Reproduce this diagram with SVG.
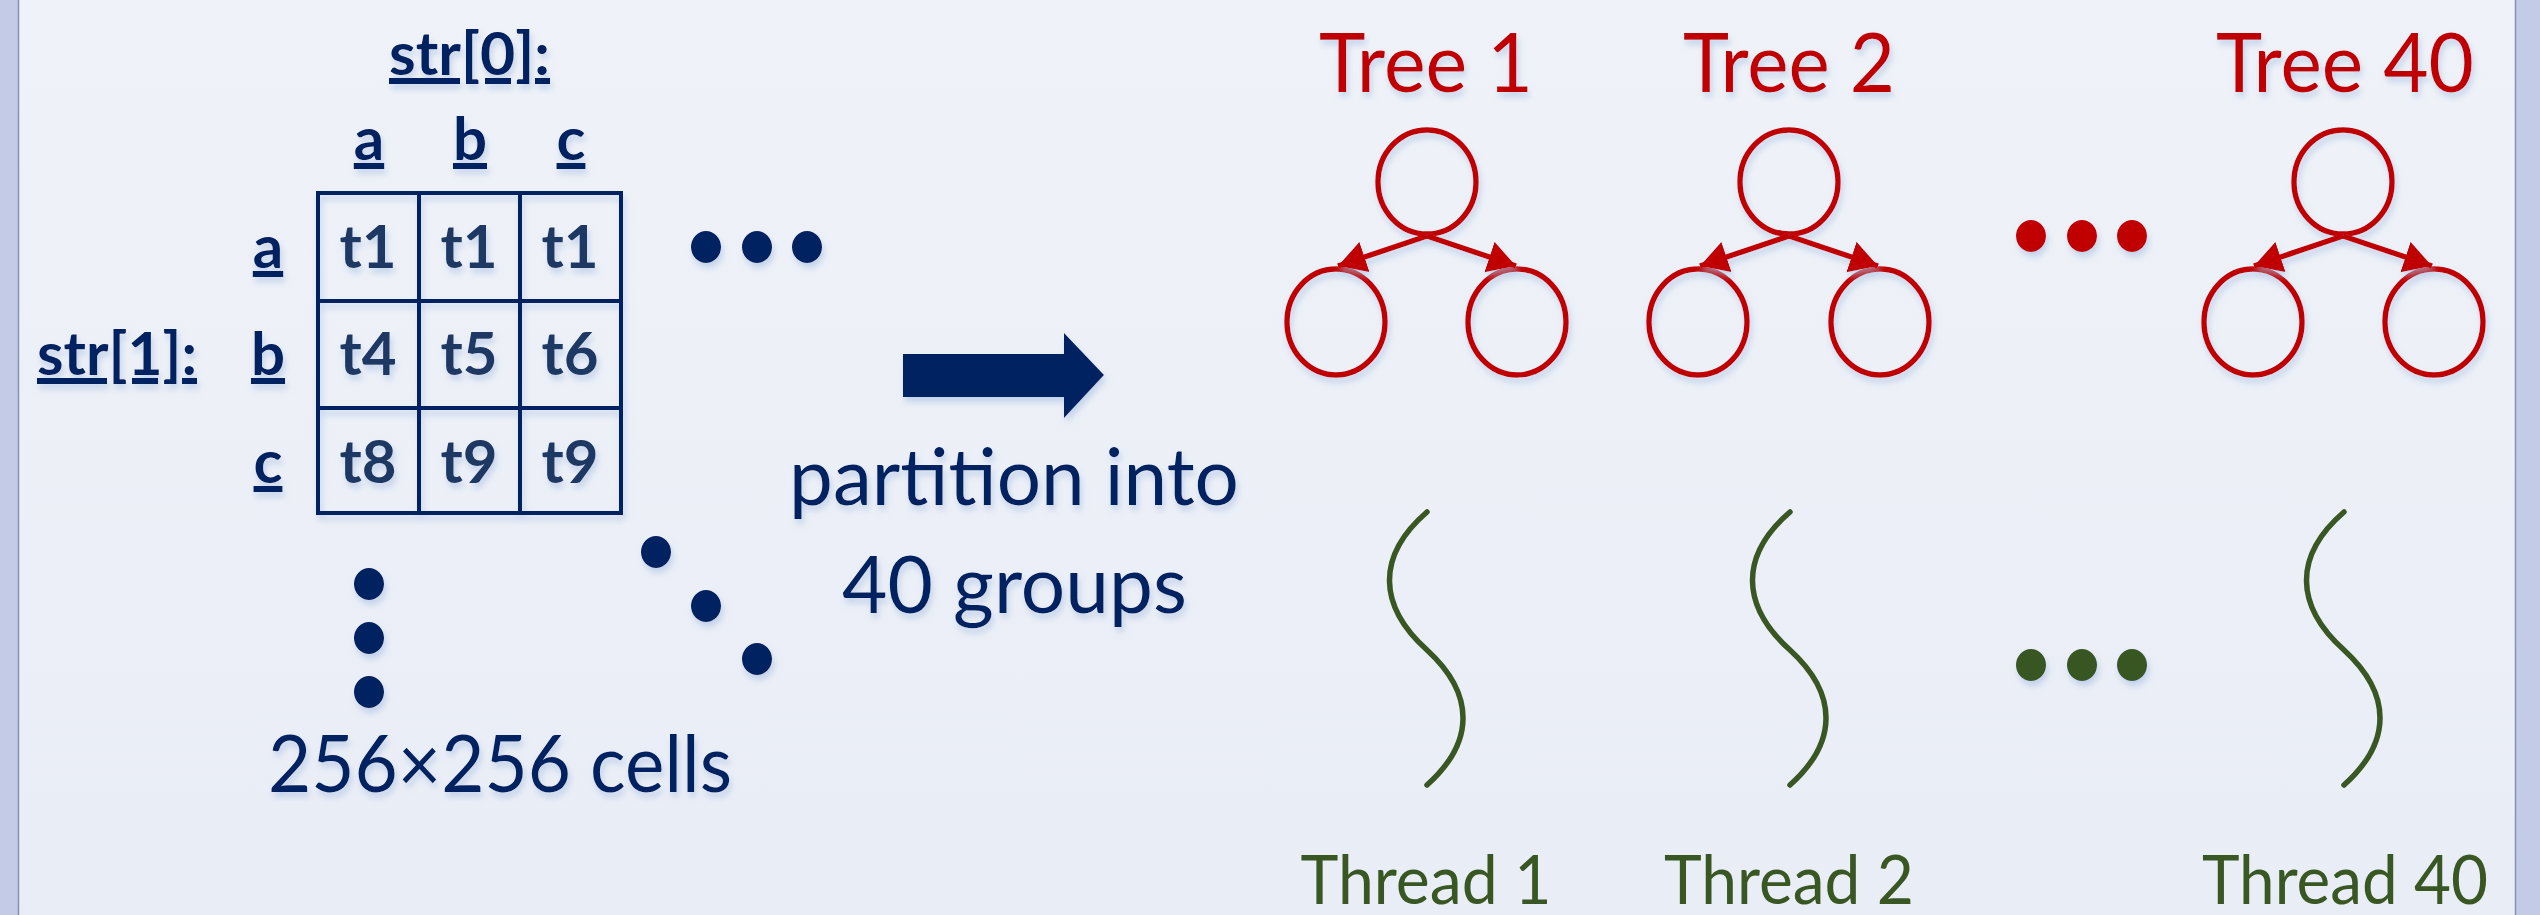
<svg xmlns="http://www.w3.org/2000/svg" width="2540" height="915" viewBox="0 0 2540 915">
  <defs>
    <linearGradient id="bg" x1="0" y1="0" x2="0" y2="1">
      <stop offset="0" stop-color="#eff2f8"/>
      <stop offset="1" stop-color="#e9edf6"/>
    </linearGradient>
    <filter id="sh" x="-20%" y="-20%" width="140%" height="170%">
      <feDropShadow dx="2" dy="5" stdDeviation="3" flood-color="#a8c0e2" flood-opacity="0.6"/>
    </filter>
    <marker id="ah" markerUnits="userSpaceOnUse" markerWidth="32" markerHeight="34" refX="28" refY="16" orient="auto">
      <path d="M0,0 L28,16 L0,32 Z" fill="#c00000"/>
    </marker>
  </defs>
  <style>
    .navyB { font-family: Lato, "Open Sans", sans-serif; font-weight: 700; fill: #002060; }
    .cell { font-family: Lato, "Open Sans", sans-serif; font-weight: 700; fill: #1f3864; font-size: 60px; }
    .navyR { font-family: Lato, "Open Sans", sans-serif; font-weight: 400; fill: #002060; font-size: 80px; }
    .red { font-family: Lato, "Open Sans", sans-serif; font-weight: 400; fill: #c00000; font-size: 81px; }
    .green { font-family: Lato, "Open Sans", sans-serif; font-weight: 400; fill: #385723; font-size: 68px; }
    .grid { fill: none; stroke: #002060; stroke-width: 4; }
    .dotN { fill: #002060; }
    .dotR { fill: #c00000; }
    .dotG { fill: #385723; }
    .node { fill: none; stroke: #c00000; stroke-width: 5.5; }
    .edge { stroke: #c00000; stroke-width: 5.5; fill: none; marker-end: url(#ah); }
    .thread { fill: none; stroke: #385723; stroke-width: 5.5; stroke-linecap: round; }
  </style>

  <!-- background -->
  <rect x="0" y="0" width="2540" height="915" fill="url(#bg)"/>
  <rect x="0" y="0" width="18" height="915" fill="#c3cbe6"/>
  <line x1="18.5" y1="0" x2="18.5" y2="915" stroke="#8592b3" stroke-width="1.5"/>
  <rect x="2516" y="0" width="24" height="915" fill="#c3cbe6"/>
  <line x1="2515.5" y1="0" x2="2515.5" y2="915" stroke="#8592b3" stroke-width="1.5"/>

  <!-- matrix -->
  <g id="matrix" filter="url(#sh)">
    <text class="navyB" x="469.5" y="75" font-size="60" text-anchor="middle" text-decoration="underline" textLength="161" lengthAdjust="spacingAndGlyphs">str[0]:</text>
    <text class="navyB" x="369" y="160" font-size="60" text-anchor="middle" text-decoration="underline">a</text>
    <text class="navyB" x="470" y="160" font-size="60" text-anchor="middle" text-decoration="underline">b</text>
    <text class="navyB" x="571" y="160" font-size="60" text-anchor="middle" text-decoration="underline">c</text>
    <text class="navyB" x="117" y="375" font-size="60" text-anchor="middle" text-decoration="underline" textLength="160" lengthAdjust="spacingAndGlyphs">str[1]:</text>
    <text class="navyB" x="268" y="268" font-size="60" text-anchor="middle" text-decoration="underline">a</text>
    <text class="navyB" x="268" y="375" font-size="60" text-anchor="middle" text-decoration="underline">b</text>
    <text class="navyB" x="268" y="483" font-size="60" text-anchor="middle" text-decoration="underline">c</text>
    <rect class="grid" x="318" y="193" width="303" height="320"/>
    <line class="grid" x1="419" y1="193" x2="419" y2="513"/>
    <line class="grid" x1="520" y1="193" x2="520" y2="513"/>
    <line class="grid" x1="318" y1="301" x2="621" y2="301"/>
    <line class="grid" x1="318" y1="408" x2="621" y2="408"/>
    <text class="cell" x="368" y="268" text-anchor="middle">t1</text>
    <text class="cell" x="469" y="268" text-anchor="middle">t1</text>
    <text class="cell" x="570" y="268" text-anchor="middle">t1</text>
    <text class="cell" x="368" y="375" text-anchor="middle">t4</text>
    <text class="cell" x="469" y="375" text-anchor="middle">t5</text>
    <text class="cell" x="570" y="375" text-anchor="middle">t6</text>
    <text class="cell" x="368" y="483" text-anchor="middle">t8</text>
    <text class="cell" x="469" y="483" text-anchor="middle">t9</text>
    <text class="cell" x="570" y="483" text-anchor="middle">t9</text>
    <ellipse class="dotN" cx="706" cy="247" rx="15" ry="16"/>
    <ellipse class="dotN" cx="757" cy="247" rx="15" ry="16"/>
    <ellipse class="dotN" cx="807" cy="247" rx="15" ry="16"/>
    <ellipse class="dotN" cx="369" cy="584" rx="15" ry="16"/>
    <ellipse class="dotN" cx="369" cy="638" rx="15" ry="16"/>
    <ellipse class="dotN" cx="369" cy="692" rx="15" ry="16"/>
    <ellipse class="dotN" cx="656" cy="552" rx="15" ry="16"/>
    <ellipse class="dotN" cx="706" cy="606" rx="15" ry="16"/>
    <ellipse class="dotN" cx="757" cy="659" rx="15" ry="16"/>
    <text class="navyR" x="500" y="792" text-anchor="middle" textLength="464" lengthAdjust="spacingAndGlyphs">256×256 cells</text>
  </g>

  <!-- partition arrow -->
  <g id="partition" filter="url(#sh)">
    <polygon points="903,354 1064,354 1064,333 1104,375 1064,418 1064,397 903,397" fill="#002060"/>
    <text class="navyR" x="1014" y="505" text-anchor="middle" textLength="450" lengthAdjust="spacingAndGlyphs">partition into</text>
    <text class="navyR" x="1014.5" y="613" text-anchor="middle" textLength="345" lengthAdjust="spacingAndGlyphs">40 groups</text>
  </g>

  <!-- trees -->
  <g id="tree1" filter="url(#sh)">
    <text class="red" x="1426" y="92" text-anchor="middle" textLength="214" lengthAdjust="spacingAndGlyphs">Tree 1</text>
    <ellipse class="node" cx="1427" cy="182" rx="49" ry="52"/>
    <ellipse class="node" cx="1336" cy="322" rx="49" ry="53"/>
    <ellipse class="node" cx="1517" cy="322" rx="49" ry="53"/>
  </g>
  <g id="tree2" filter="url(#sh)">
    <text class="red" x="1789" y="92" text-anchor="middle" textLength="212" lengthAdjust="spacingAndGlyphs">Tree 2</text>
    <ellipse class="node" cx="1789" cy="182" rx="49" ry="52"/>
    <ellipse class="node" cx="1698" cy="322" rx="49" ry="53"/>
    <ellipse class="node" cx="1880" cy="322" rx="49" ry="53"/>
  </g>
  <g id="tree40" filter="url(#sh)">
    <text class="red" x="2345" y="92" text-anchor="middle" textLength="258" lengthAdjust="spacingAndGlyphs">Tree 40</text>
    <ellipse class="node" cx="2343" cy="182" rx="49" ry="52"/>
    <ellipse class="node" cx="2253" cy="322" rx="49" ry="53"/>
    <ellipse class="node" cx="2434" cy="322" rx="49" ry="53"/>
  </g>
  <g id="treeDots" filter="url(#sh)">
    <ellipse class="dotR" cx="2031" cy="236" rx="15" ry="16"/>
    <ellipse class="dotR" cx="2082" cy="236" rx="15" ry="16"/>
    <ellipse class="dotR" cx="2132" cy="236" rx="15" ry="16"/>
  </g>

  <!-- threads -->
  <g id="thread1">
    <path class="thread" d="M1427,512 C1376,556 1378,606 1427,650 C1475,694 1475,742 1427,785"/>
    <text class="green" x="1426" y="904" text-anchor="middle" textLength="251" lengthAdjust="spacingAndGlyphs">Thread 1</text>
  </g>
  <g id="thread2">
    <path class="thread" d="M1790,512 C1739,556 1741,606 1790,650 C1838,694 1838,742 1790,785"/>
    <text class="green" x="1789" y="904" text-anchor="middle" textLength="250" lengthAdjust="spacingAndGlyphs">Thread 2</text>
  </g>
  <g id="thread40">
    <path class="thread" d="M2344,512 C2293,556 2295,606 2344,650 C2392,694 2392,742 2344,785"/>
    <text class="green" x="2345" y="904" text-anchor="middle" textLength="286" lengthAdjust="spacingAndGlyphs">Thread 40</text>
  </g>
  <g id="threadDots" filter="url(#sh)">
    <ellipse class="dotG" cx="2031" cy="665" rx="15" ry="16"/>
    <ellipse class="dotG" cx="2082" cy="665" rx="15" ry="16"/>
    <ellipse class="dotG" cx="2132" cy="665" rx="15" ry="16"/>
  </g>

  <!-- connectors -->
  <g id="connectors" filter="url(#sh)">
    <line class="edge" x1="1427" y1="236" x2="1338" y2="266"/>
    <line class="edge" x1="1427" y1="236" x2="1516" y2="266"/>
    <line class="edge" x1="1789" y1="236" x2="1700" y2="266"/>
    <line class="edge" x1="1789" y1="236" x2="1878" y2="266"/>
    <line class="edge" x1="2343" y1="236" x2="2254" y2="266"/>
    <line class="edge" x1="2343" y1="236" x2="2432" y2="266"/>
  </g>
</svg>
